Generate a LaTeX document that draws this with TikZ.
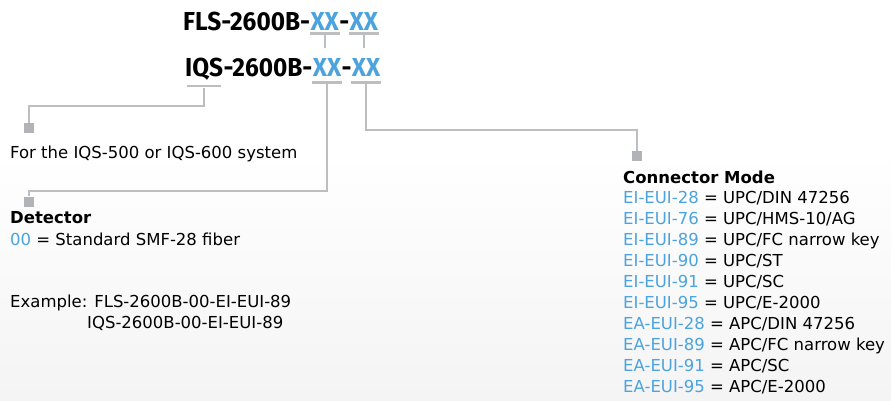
\documentclass[tikz,border=0pt]{standalone}
\usepackage{fontspec}
\setmainfont{DejaVu Sans}
\newfontfamily\partfont[FakeStretch=0.94]{Fira Sans}
\usetikzlibrary{positioning}
\definecolor{codeblue}{RGB}{76,163,221}
\definecolor{leadgray}{RGB}{188,190,192}
\definecolor{boxgray}{RGB}{177,179,182}
\definecolor{bggray}{RGB}{244,244,245}
\tikzset{
  part/.style={inner sep=0pt, anchor=base west, font=\partfont\bfseries\fontsize{26}{26}\selectfont},
  bar/.style={fill=leadgray, inner sep=0pt, minimum width=30pt, minimum height=2.2pt},
  lead/.style={draw=leadgray, line width=2pt},
  tag/.style={fill=boxgray, inner sep=0pt, minimum size=10pt},
  txt/.style={inner sep=0pt, anchor=base west, font=\fontsize{16.5}{20}\selectfont},
  head/.style={txt, font=\bfseries\fontsize{16.5}{20}\selectfont},
}
\begin{document}
\begin{tikzpicture}[x=1pt,y=-1pt]
\fill[white] (0,0) rectangle (891,150);
\shade[top color=white, bottom color=bggray] (0,150) rectangle (891,400);
\useasboundingbox (0,0) rectangle (891,400);
% part numbers
\node[part] (fls) at (183,30) {FLS-2600B-};
\node[part, codeblue] (fa) at (fls.base east) {XX};
\node[part] (fd) at (fa.base east) {-};
\node[part, codeblue] (fb) at (fd.base east) {XX};
\node[part] (iqs) at (185,76) {IQS};
\node[part] (iqn) at (iqs.base east) {-2600B-};
\node[part, codeblue] (ia) at (iqn.base east) {XX};
\node[part] (id) at (ia.base east) {-};
\node[part, codeblue] (ib) at (id.base east) {XX};
% underlines
\node[bar, below=2pt of fa] (ufa) {};
\node[bar, below=2pt of fb] (ufb) {};
\node[bar, minimum width=34pt, below=5pt of iqs] (uiq) {};
\node[bar, below=5pt of ia] (uia) {};
\node[bar, below=5pt of ib] (uib) {};
\draw[lead] (ufa) -- ++(0,14);
\draw[lead] (ufb) -- ++(0,14);
% end marks
\node[tag] (sq1) at (29,128) {};
\node[tag] (sq2) at (29,201.5) {};
\node[tag] (sq3) at (637,156) {};
\coordinate (k1) at (29,106);
\coordinate (k2) at (29,191);
\coordinate (k3) at (637,130);
\draw[lead] (uiq) |- (k1) -- (sq1);
\draw[lead] (uia) |- (k2) -- (sq2);
\draw[lead] (uib) |- (k3) -- (sq3);
% texts
\node[txt] (sys) at (10,158) {For the IQS-500 or IQS-600 system};
\node[head] (det) at (10,223) {Detector};
\node[txt] (smf) at (10,245) {\textcolor{codeblue}{00} = Standard SMF-28 fiber};
\node[txt] (ex1) at (10,307) {Example: FLS-2600B-00-EI-EUI-89};
\node[txt] (ex2) at (87,328) {IQS-2600B-00-EI-EUI-89};
\node[head] (cm) at (623,183) {Connector Mode};
\foreach \c/\d [count=\i] in {EI-EUI-28/{UPC/DIN 47256}, EI-EUI-76/{UPC/HMS-10/AG},
    EI-EUI-89/{UPC/FC narrow key}, EI-EUI-90/{UPC/ST}, EI-EUI-91/{UPC/SC}, EI-EUI-95/{UPC/E-2000},
    EA-EUI-28/{APC/DIN 47256}, EA-EUI-89/{APC/FC narrow key}, EA-EUI-91/{APC/SC}, EA-EUI-95/{APC/E-2000}}
  \node[txt] (cm\i) at (623,{183+20.9*\i}) {\textcolor{codeblue}{\c} = \d};
\end{tikzpicture}
\end{document}
